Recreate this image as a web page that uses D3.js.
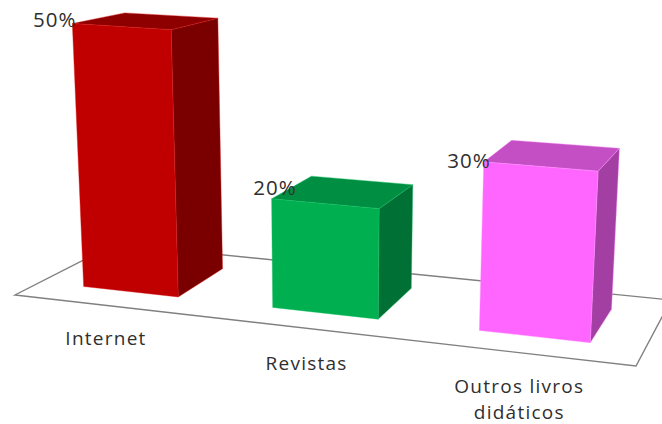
<!DOCTYPE html>
<html><head><meta charset="utf-8">
<style>html,body{margin:0;padding:0;background:#fff}svg{display:block}
text{font-family:"Open Sans",sans-serif;fill:#2f2f2f}</style>
<script src="https://cdn.jsdelivr.net/npm/d3@7"></script></head>
<body><svg id="c" width="662" height="424"></svg>
<script>
const categories = ["Internet", "Revistas", "Outros livros didáticos"];
const values = [50, 20, 30];
const valueLabels = ["50%", "20%", "30%"];
const frontColors = ["#C00000", "#00B050", "#FF66FF"];
const sideColors = ["#7A0000", "#007034", "#A33FA3"];
const topColors = ["#8E0000", "#008F42", "#C44FC4"];
const edgeColors = ["#D81818", "#10C060", "#FF90FF"];

// Floor plane corners on the page (front-left, front-right, back-left, back-right)
const A = [15, 295], B = [636, 366], C = [115, 244], D = [671, 300];
const svg = d3.select("#c");

// scales: category -> world position, world position -> floor fraction, value -> height
const xBand = d3.scaleBand().domain(categories).range([0.011, 0.996]).paddingInner(0.4825).paddingOuter(0.24);
const xPersp = d3.scalePow().exponent(1.1).domain([0, 1]).range([0, 1]);
const yScale = d3.scaleLinear().domain([0, 50]).range([0, 261]);
const vFront = 0.26, vBack = 0.78;
const xLabel = d3.scalePoint().domain(categories).range([0.248, 0.861]);

function floorPt(t, v) {
  const u = xPersp(Math.max(t, 0));
  const f = d3.interpolate(A, B)(u), b = d3.interpolate(C, D)(u);
  return d3.interpolate(f, b)(v);
}
function project(t, v, value) {
  const p = floorPt(t, v);
  const u = xPersp(t);
  const h = yScale(value) * (1 + 0.105 * u) * (1 - 0.12 * (v - vFront));
  return [p[0] + (p[0] - 330) * 0.000175 * h, p[1] - h];
}
const line = d3.line();
const poly = pts => line(pts) + "Z";

// floor
svg.append("path")
  .attr("d", poly([floorPt(0, 0), floorPt(1, 0), floorPt(1, 1), floorPt(0, 1)]))
  .attr("fill", "#fff").attr("stroke", "#808080").attr("stroke-width", 1.4);

// bars
const bars = svg.selectAll("g.bar").data(categories).join("g").attr("class", "bar");
bars.each(function (cat, i) {
  const g = d3.select(this);
  const t0 = xBand(cat), t1 = t0 + xBand.bandwidth(), val = values[i];
  const faces = [
    { pts: [project(t1, vFront, 0), project(t1, vBack, 0), project(t1, vBack, val), project(t1, vFront, val)], fill: sideColors[i] },
    { pts: [project(t0, vFront, val), project(t1, vFront, val), project(t1, vBack, val), project(t0, vBack, val)], fill: topColors[i] },
    { pts: [project(t0, vFront, 0), project(t1, vFront, 0), project(t1, vFront, val), project(t0, vFront, val)], fill: frontColors[i] }
  ];
  g.selectAll("path").data(faces).join("path")
    .attr("d", d => poly(d.pts)).attr("fill", d => d.fill)
    .attr("stroke", edgeColors[i]).attr("stroke-width", 0.4).attr("stroke-linejoin", "round");
});

// value labels sit by the bar's top-left corner
const valueOffset = [[4, 3], [25, -4], [7, 6]];
svg.selectAll("text.val").data(categories).join("text").attr("class", "val")
  .attr("text-anchor", "end").attr("font-size", 20.5).attr("letter-spacing", 1)
  .each(function (cat, i) {
    const p = project(xBand(cat), vFront, values[i]);
    d3.select(this).attr("x", p[0] + valueOffset[i][0]).attr("y", p[1] + valueOffset[i][1]).text(valueLabels[i]);
  });

// category labels
svg.selectAll("text.cat").data(categories).join("text").attr("class", "cat")
  .attr("text-anchor", "middle").attr("font-size", 19).attr("letter-spacing", 1.25)
  .each(function (cat) {
    const p = floorPt(xLabel(cat), -0.5);
    const words = cat === "Outros livros didáticos" ? ["Outros livros", "didáticos"] : [cat];
    const s = d3.select(this);
    const y0 = p[1] + 8 - (words.length - 1) * 2;
    words.forEach((w, k) => s.append("tspan").attr("x", p[0]).attr("y", y0 + k * 26).text(w));
  });
</script></body></html>
